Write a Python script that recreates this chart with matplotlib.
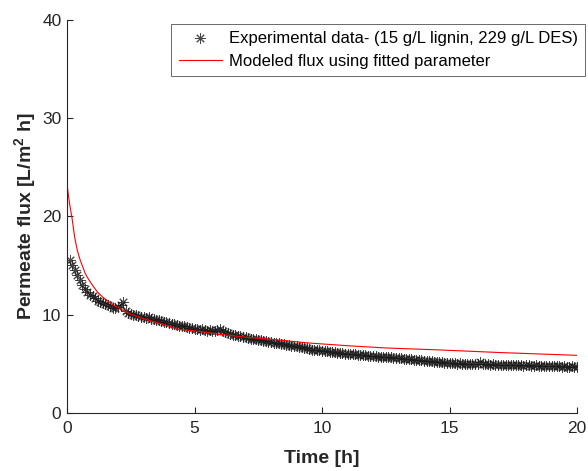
import numpy as np
import matplotlib
matplotlib.use("Agg")
import matplotlib.pyplot as plt

plt.rcParams['font.family'] = ['Liberation Sans', 'DejaVu Sans']
plt.rcParams['mathtext.fontset'] = 'custom'
plt.rcParams['mathtext.rm'] = 'Liberation Sans'
plt.rcParams['mathtext.bf'] = 'Liberation Sans:bold'

# Experimental data: time (h) and permeate flux (L/m2 h)
exp_time = [round(0.1 * i, 1) for i in range(1, 201)]
exp_flux = [
    15.6, 15.1, 14.6, 14.0, 13.5, 13.0, 12.6, 12.3, 12.0, 11.9,
    11.7, 11.45, 11.3, 11.2, 11.1, 11.0, 10.85, 10.7, 10.7, 10.8,
    11.0, 11.25, 10.4, 10.15, 10.05, 9.95, 10.0, 9.85, 9.8, 9.75,
    9.7, 9.75, 9.6, 9.55, 9.5, 9.45, 9.35, 9.3, 9.25, 9.15,
    9.1, 9.05, 9.0, 8.9, 8.85, 8.9, 8.8, 8.7, 8.65, 8.6,
    8.5, 8.45, 8.5, 8.4, 8.35, 8.4, 8.3, 8.35, 8.45, 8.5,
    8.35, 8.2, 8.1, 8.0, 7.95, 7.9, 7.85, 7.8, 7.75, 7.7,
    7.6, 7.55, 7.5, 7.5, 7.45, 7.4, 7.35, 7.3, 7.25, 7.2,
    7.15, 7.1, 7.1, 7.05, 7.0, 6.95, 6.9, 6.85, 6.85, 6.8,
    6.75, 6.7, 6.65, 6.6, 6.5, 6.45, 6.45, 6.4, 6.4, 6.35,
    6.3, 6.3, 6.25, 6.2, 6.2, 6.15, 6.1, 6.1, 6.05, 6.05,
    6.0, 6.05, 6.0, 5.95, 5.95, 5.9, 5.9, 5.85, 5.85, 5.8,
    5.8, 5.75, 5.75, 5.7, 5.7, 5.65, 5.65, 5.6, 5.6, 5.55,
    5.55, 5.5, 5.5, 5.45, 5.45, 5.4, 5.4, 5.35, 5.35, 5.3,
    5.3, 5.25, 5.25, 5.2, 5.2, 5.15, 5.15, 5.1, 5.1, 5.1,
    5.05, 5.05, 5.0, 5.05, 5.0, 5.0, 4.95, 5.0, 5.0, 4.95,
    4.95, 5.15, 5.0, 4.95, 4.95, 4.9, 4.95, 4.9, 4.9, 4.9,
    4.9, 4.85, 4.9, 4.85, 4.85, 4.9, 4.85, 4.85, 4.8, 4.85,
    4.85, 4.8, 4.8, 4.85, 4.8, 4.8, 4.75, 4.8, 4.75, 4.75,
    4.75, 4.8, 4.75, 4.7, 4.75, 4.7, 4.7, 4.75, 4.7, 4.7,
]

# Modeled flux curve
model_time = [0, 0.05, 0.1, 0.2, 0.3, 0.4, 0.5, 0.6, 0.7, 0.8, 1.0, 1.2, 1.4,
              1.6, 1.8, 2.1, 2.5, 3.0, 3.8, 4.4, 5.2, 6.0, 7.0, 8.0, 9.5, 11.0,
              12.5, 14.6, 17.0, 20.0]
model_flux = [23.3, 22.3, 21.3, 19.8, 17.9, 16.6, 15.7, 15.0, 14.3, 13.8, 13.0,
              12.3, 11.8, 11.4, 11.0, 10.6, 10.05, 9.6, 9.0, 8.5, 8.3, 8.0,
              7.72, 7.5, 7.12, 6.85, 6.62, 6.42, 6.15, 5.87]

x_ticks = [0, 5, 10, 15, 20]
y_ticks = [0, 10, 20, 30, 40]

txt = '#262626'
fig = plt.figure(figsize=(5.88, 4.71), dpi=100)
ax = fig.add_axes([67/588, 1 - 413/471, 510/588, 393/471])

ax.plot(exp_time, exp_flux, linestyle='none', marker=(8, 2, 0), markersize=7.5,
        color='#1a1a1a', markeredgewidth=0.7, alpha=0.8,
        label='Experimental data- (15 g/L lignin, 229 g/L DES)')
ax.plot(model_time, model_flux, color='red', linewidth=0.8,
        label='Modeled flux using fitted parameter')

ax.set_xlim(0, 20)
ax.set_ylim(0, 40)
ax.set_xticks(x_ticks)
ax.set_yticks(y_ticks)
for s in ['top', 'right']:
    ax.spines[s].set_visible(False)
for s in ['left', 'bottom']:
    ax.spines[s].set_color(txt)
    ax.spines[s].set_linewidth(0.8)
ax.tick_params(direction='in', length=4, width=0.8, colors=txt,
               labelsize=12.5)
ax.tick_params(axis='y', pad=4)
ax.tick_params(axis='x', pad=6)

ax.set_xlabel('Time [h]', fontsize=14, fontweight='bold', color=txt, labelpad=10)
ax.set_ylabel(r'Permeate flux [L/m$^{\mathbf{2}}$ h]', fontsize=14,
              fontweight='bold', color=txt, labelpad=2)

leg = ax.legend(loc='upper right', bbox_to_anchor=(1.016, 0.99), fontsize=12,
                frameon=True, fancybox=False, edgecolor='#262626',
                handlelength=2.6, handletextpad=0.4, borderpad=0.45,
                labelspacing=0.45, borderaxespad=0)
leg.get_frame().set_linewidth(0.6)
for t in leg.get_texts():
    t.set_color('black')

fig.savefig('out.png', dpi=100)
